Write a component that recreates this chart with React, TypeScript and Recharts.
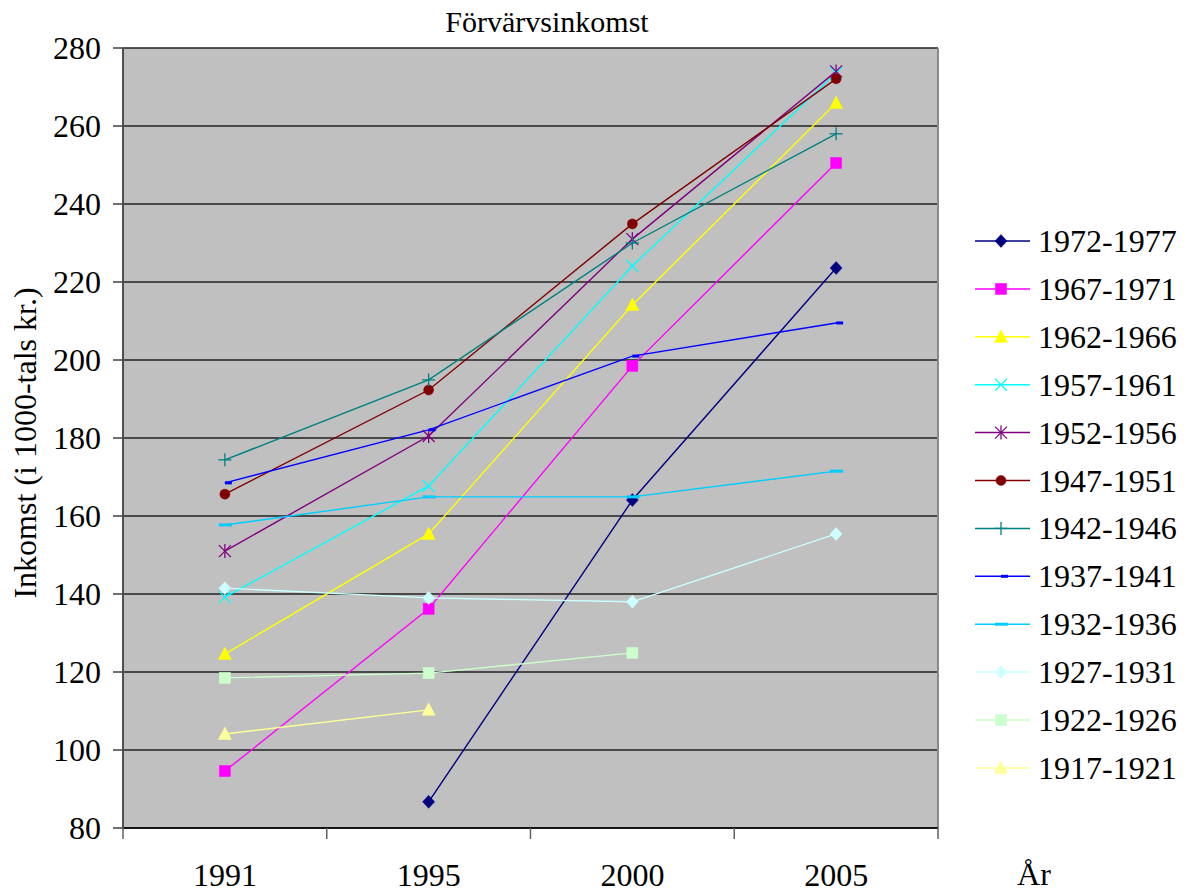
import React from 'react';
import { LineChart, Line, XAxis, YAxis, CartesianGrid, ReferenceLine } from 'recharts';

const categories = ['1991', '1995', '2000', '2005'];
const yTicks = [80, 100, 120, 140, 160, 180, 200, 220, 240, 260, 280];

const seriesNames = ['1972-1977', '1967-1971', '1962-1966', '1957-1961', '1952-1956', '1947-1951', '1942-1946', '1937-1941', '1932-1936', '1927-1931', '1922-1926', '1917-1921'];
const seriesColors = ['#000080', '#FF00FF', '#FFFF00', '#00FFFF', '#800080', '#800000', '#008080', '#0000FF', '#00CCFF', '#CCFFFF', '#CCFFCC', '#FFFF99'];
const seriesMarkers = ['diamond', 'square', 'triangle', 'x', 'star', 'circle', 'plus', 'shortdash', 'dash', 'diamond', 'square', 'triangle'];

const s1972 = [null, 86.7, 164.1, 223.6];
const s1967 = [94.6, 136.2, 198.5, 250.5];
const s1962 = [124.6, 155.4, 214.1, 265.9];
const s1957 = [139.2, 167.7, 224.1, 273.6];
const s1952 = [151.0, 180.5, 231.0, 274.0];
const s1947 = [165.6, 192.3, 234.9, 272.1];
const s1942 = [174.4, 194.9, 230.0, 258.0];
const s1937 = [168.5, 182.1, 201.0, 209.5];
const s1932 = [157.7, 164.9, 164.9, 171.5];
const s1927 = [141.5, 139.0, 138.0, 155.4];
const s1922 = [118.5, 119.7, 124.9, null];
const s1917 = [104.1, 110.3, null, null];

const seriesValues = [s1972, s1967, s1962, s1957, s1952, s1947, s1942, s1937, s1932, s1927, s1922, s1917];

const data = categories.map((c, i) => {
  const row: any = { pos: i + 0.5, label: c };
  seriesValues.forEach((vals, k) => {
    row['s' + k] = vals[i];
  });
  return row;
});

const xTicks: number[] = [];
for (let i = 0; i <= categories.length; i++) {
  xTicks.push(i);
  if (i < categories.length) xTicks.push(i + 0.5);
}

const FONT = 'Liberation Serif';
const fontStyle = { fontFamily: 'Liberation Serif' };

function Marker({ type, cx, cy, color }: { type: string; cx: number; cy: number; color: string }) {
  switch (type) {
    case 'diamond':
      return <polygon points={`${cx},${cy - 6.5} ${cx + 6},${cy} ${cx},${cy + 6.5} ${cx - 6},${cy}`} fill={color} stroke={color} strokeWidth={0.5} />;
    case 'square':
      return <rect x={cx - 5.5} y={cy - 5.5} width={11} height={11} fill={color} stroke={color} strokeWidth={0.5} />;
    case 'triangle':
      return <polygon points={`${cx},${cy - 7} ${cx + 6.5},${cy + 5.5} ${cx - 6.5},${cy + 5.5}`} fill={color} stroke={color} strokeWidth={0.5} />;
    case 'x':
      return (
        <g stroke={color} strokeWidth={1.3}>
          <line x1={cx - 6} y1={cy - 6} x2={cx + 6} y2={cy + 6} />
          <line x1={cx - 6} y1={cy + 6} x2={cx + 6} y2={cy - 6} />
        </g>
      );
    case 'star':
      return (
        <g stroke={color} strokeWidth={1.3}>
          <line x1={cx - 6} y1={cy - 6} x2={cx + 6} y2={cy + 6} />
          <line x1={cx - 6} y1={cy + 6} x2={cx + 6} y2={cy - 6} />
          <line x1={cx} y1={cy - 7} x2={cx} y2={cy + 7} />
        </g>
      );
    case 'circle':
      return <circle cx={cx} cy={cy} r={5} fill={color} stroke={color} strokeWidth={0.5} />;
    case 'plus':
      return (
        <g stroke={color} strokeWidth={1.3}>
          <line x1={cx - 6.5} y1={cy} x2={cx + 6.5} y2={cy} />
          <line x1={cx} y1={cy - 6.5} x2={cx} y2={cy + 6.5} />
        </g>
      );
    case 'shortdash':
      return <rect x={cx} y={cy - 1.5} width={7} height={3} fill={color} />;
    case 'dash':
      return <rect x={cx - 6} y={cy - 1.5} width={13} height={3} fill={color} />;
    default:
      return null;
  }
}

function makeDot(type: string, color: string) {
  return (props: any) => {
    const { cx, cy, index, value } = props;
    if (value === null || value === undefined || cx == null || cy == null) return <g key={index} />;
    return <g key={index}><Marker type={type} cx={cx} cy={cy} color={color} /></g>;
  };
}

const XTick = (props: any) => {
  const { x, y, payload } = props;
  const v = payload.value;
  if (Number.isInteger(v)) {
    return <line x1={x} y1={y} x2={x} y2={y + 11} stroke="#606060" strokeWidth={1.5} />;
  }
  const idx = Math.floor(v);
  return (
    <text x={x} y={y + 58} textAnchor="middle" style={fontStyle} fontSize={32} fill="#000">
      {categories[idx]}
    </text>
  );
};

const YTick = (props: any) => {
  const { x, y, payload } = props;
  return (
    <text x={x + 1} y={y + 11} textAnchor="end" style={fontStyle} fontSize={32} fill="#000">
      {payload.value}
    </text>
  );
};

function LegendBox() {
  return (
    <svg width={224} height={600} style={{ position: 'absolute', left: 965, top: 215, fontFamily: FONT }}>
      {seriesNames.map((name, i) => {
        const cy = 26 + i * 47.9;
        return (
          <g key={name}>
            <line x1={10} y1={cy} x2={65} y2={cy} stroke={seriesColors[i]} strokeWidth={1.5} />
            <Marker type={seriesMarkers[i]} cx={36} cy={cy} color={seriesColors[i]} />
            <text x={73} y={cy + 11} style={fontStyle} fontSize={32} fill="#000">{name}</text>
          </g>
        );
      })}
    </svg>
  );
}

export default function App() {
  return (
    <div style={{ position: 'absolute', left: 0, top: 0, width: 1189, height: 892, background: '#fff', fontFamily: FONT }}>
      <LineChart
        width={1189}
        height={892}
        data={data}
        margin={{ top: 48, right: 251, bottom: 0, left: 0 }}
      >
        <CartesianGrid vertical={false} stroke="#222" strokeWidth={1.5} fill="#C0C0C0" fillOpacity={1} />
        <XAxis
          dataKey="pos"
          type="number"
          domain={[0, 4]}
          ticks={xTicks}
          interval={0}
          tick={<XTick />}
          tickLine={false}
          tickSize={0}
          tickMargin={0}
          height={64}
          axisLine={{ stroke: '#000', strokeWidth: 1.5 }}
          allowDataOverflow
        />
        <YAxis
          type="number"
          domain={[80, 280]}
          ticks={yTicks}
          interval={0}
          width={123}
          tickSize={10}
          tickMargin={13}
          tick={<YTick />}
          tickLine={{ stroke: '#404040', strokeWidth: 1.5 }}
          axisLine={{ stroke: '#505050', strokeWidth: 2 }}
          allowDataOverflow
        />
        <ReferenceLine x={4} stroke="#8a8a8a" strokeWidth={2} />
        {seriesNames.map((name, k) => (
          <Line
            key={name}
            type="linear"
            dataKey={'s' + k}
            name={name}
            stroke={seriesColors[k]}
            strokeWidth={1.4}
            dot={makeDot(seriesMarkers[k], seriesColors[k])}
            activeDot={false}
            isAnimationActive={false}
            connectNulls={false}
          />
        ))}
      </LineChart>
      <svg width={1189} height={892} style={{ position: 'absolute', left: 0, top: 0, pointerEvents: 'none' }}>
        <text x={547} y={32} textAnchor="middle" style={fontStyle} fontSize={30} fill="#000">Förvärvsinkomst</text>
        <text
          x={36}
          y={443}
          textAnchor="middle"
          transform="rotate(-90 36 443)"
          style={fontStyle}
          fontSize={32}
          fill="#000"
        >
          Inkomst (i 1000-tals kr.)
        </text>
        <text x={1034} y={885} textAnchor="middle" style={fontStyle} fontSize={32} fill="#000">År</text>
      </svg>
      <LegendBox />
    </div>
  );
}
